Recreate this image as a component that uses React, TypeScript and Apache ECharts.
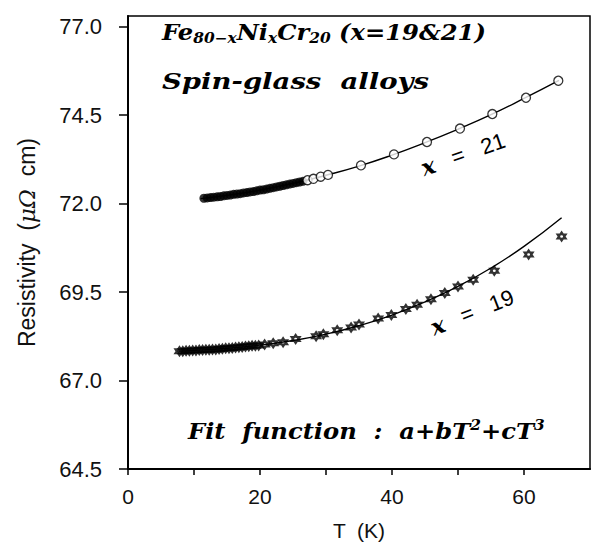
import React, { useEffect, useRef } from "react";
import * as echarts from "echarts";

// ---- data ----
// x = 21 : dense low-T run (markers overlap into a solid band)
const t21Dense = [11.5, 12.0, 12.5, 13.0, 13.5, 14.0, 14.5, 15.0, 15.5, 16.0, 16.5, 17.0, 17.5, 18.0, 18.5, 19.0, 19.5, 20.0, 20.5, 21.0, 21.5, 22.0, 22.5, 23.0, 23.5, 24.0, 24.5, 25.0, 25.5, 26.0, 26.5];
const r21Dense = [72.15, 72.16, 72.17, 72.18, 72.19, 72.20, 72.22, 72.23, 72.24, 72.26, 72.27, 72.28, 72.30, 72.31, 72.33, 72.34, 72.36, 72.38, 72.39, 72.41, 72.43, 72.45, 72.47, 72.49, 72.51, 72.53, 72.55, 72.57, 72.59, 72.61, 72.63];
// x = 21 : separate points
const t21 = [27.2, 28.1, 29.2, 30.3, 35.3, 40.3, 45.3, 50.3, 55.2, 60.3, 65.2];
const r21 = [72.66, 72.70, 72.76, 72.81, 73.08, 73.39, 73.74, 74.12, 74.53, 74.99, 75.47];
// x = 21 : fit curve
const t21Fit = [11.0, 15.0, 20.0, 25.0, 30.0, 35.0, 40.0, 45.0, 50.0, 55.0, 60.0, 65.3];
const r21Fit = [72.14, 72.23, 72.38, 72.57, 72.80, 73.06, 73.37, 73.72, 74.10, 74.51, 74.97, 75.48];

// x = 19 : dense low-T run
const t19Dense = [7.8, 8.3, 8.8, 9.3, 9.8, 10.3, 10.8, 11.3, 11.8, 12.3, 12.8, 13.3, 13.8, 14.3, 14.8, 15.3, 15.8, 16.3, 16.8, 17.3, 17.8, 18.3, 18.8, 19.3, 19.8];
const r19Dense = [67.83, 67.83, 67.84, 67.84, 67.85, 67.85, 67.86, 67.86, 67.87, 67.87, 67.88, 67.88, 67.89, 67.90, 67.91, 67.91, 67.92, 67.93, 67.94, 67.95, 67.96, 67.97, 67.98, 67.98, 67.99];
// x = 19 : separate points
const t19 = [20.7, 22.0, 23.5, 25.4, 28.5, 29.6, 31.7, 33.8, 35.0, 37.9, 39.9, 42.1, 43.8, 45.9, 48.0, 50.0, 52.3, 55.5, 60.7, 65.7];
const r19 = [68.02, 68.05, 68.08, 68.17, 68.25, 68.31, 68.42, 68.50, 68.58, 68.75, 68.85, 69.02, 69.14, 69.30, 69.47, 69.66, 69.85, 70.10, 70.56, 71.07];
// x = 19 : fit curve
const t19Fit = [7.5, 10.0, 15.0, 20.0, 25.0, 30.0, 35.0, 40.0, 45.0, 50.0, 55.0, 60.0, 65.7];
const r19Fit = [67.83, 67.85, 67.91, 68.00, 68.13, 68.31, 68.55, 68.85, 69.22, 69.66, 70.18, 70.79, 71.60];

const yTicks = [64.5, 67.0, 69.5, 72.0, 74.5, 77.0];
const xLabels = [0, 20, 40, 60];
const xTicks = [0, 10, 20, 30, 40, 50, 60];

const zip = (a: number[], b: number[]) => a.map((v, i) => [v, b[i]]);

const STAR =
  "path://M10 0 L12.89 5 L18.66 5 L15.77 10 L18.66 15 L12.89 15 L10 20 L7.11 15 L1.34 15 L4.23 10 L1.34 5 L7.11 5 Z M12.1 10 A2.1 2.1 0 0 0 7.9 10 A2.1 2.1 0 0 0 12.1 10 Z";

const SERIF = "DejaVu Serif";
const SANS = "Liberation Sans";

export default function App() {
  const ref = useRef<HTMLDivElement>(null);
  useEffect(() => {
    if (!ref.current) return;
    const chart = echarts.init(ref.current, null, { renderer: "svg" });
    const bi = { fontFamily: SERIF, fontWeight: "bold" as const, fontStyle: "italic" as const, fill: "#000" };
    const mathX = { fontFamily: SERIF, fontStyle: "italic" as const, fontWeight: "bold" as const, fontSize: 23, fill: "#000" };
    chart.setOption({
      animation: false,
      backgroundColor: "#fff",
      grid: { left: 128, right: 6, top: 16, bottom: 72, show: true, borderColor: "#000", borderWidth: 1.5, backgroundColor: "transparent" },
      xAxis: {
        type: "value",
        min: 0,
        max: 70,
        interval: 10,
        name: "T  (K)",
        nameLocation: "middle",
        nameGap: 51,
        nameTextStyle: { fontFamily: SANS, fontSize: 21, color: "#111" },
        axisLine: { show: true, onZero: false, lineStyle: { color: "#000", width: 2 } },
        axisTick: { show: true, customValues: xTicks, length: 6, lineStyle: { color: "#000", width: 1.5 } },
        axisLabel: { customValues: xLabels, margin: 17, fontFamily: SANS, fontSize: 21, color: "#111" },
        splitLine: { show: false },
      },
      yAxis: {
        type: "value",
        min: 64.5,
        max: 77.3,
        name: "Resistivity  ({g|μΩ}  cm)",
        nameLocation: "middle",
        nameGap: 90,
        nameTextStyle: {
          fontFamily: SANS,
          fontSize: 23,
          color: "#111",
          rich: { g: { fontFamily: SERIF, fontStyle: "italic", fontSize: 23, color: "#111" } },
        },
        axisLine: { show: true, onZero: false, lineStyle: { color: "#000", width: 2 } },
        axisTick: { show: true, customValues: yTicks, length: 9, lineStyle: { color: "#000", width: 1.5 } },
        axisLabel: {
          customValues: yTicks,
          margin: 26,
          fontFamily: SANS,
          fontSize: 22,
          color: "#111",
          formatter: (v: number) => v.toFixed(1),
        },
        splitLine: { show: false },
      },
      series: [
        { type: "line", data: zip(t21Fit, r21Fit), smooth: true, showSymbol: false, lineStyle: { color: "#000", width: 1.4 }, z: 2 },
        { type: "line", data: zip(t19Fit, r19Fit), smooth: true, showSymbol: false, lineStyle: { color: "#000", width: 1.4 }, z: 2 },
        { type: "scatter", data: zip(t21Dense, r21Dense), symbol: "circle", symbolSize: 9, itemStyle: { color: "#000" }, z: 3 },
        { type: "scatter", data: zip(t21, r21), symbol: "circle", symbolSize: 9, itemStyle: { color: "#fff", borderColor: "#000", borderWidth: 1.3 }, z: 4 },
        { type: "scatter", data: zip(t19Dense, r19Dense), symbol: STAR, symbolSize: 12, itemStyle: { color: "#000" }, z: 3 },
        { type: "scatter", data: zip(t19, r19), symbol: STAR, symbolSize: 12, itemStyle: { color: "#000" }, z: 4 },
      ],
      graphic: [
        {
          type: "text",
          left: 162,
          top: 19,
          scaleX: 1.1,
          style: {
            text: "Fe{s|80−x}Ni{s|x}Cr{s|20} (x=19&21)",
            ...bi,
            fontSize: 22,
            lineHeight: 26,
            rich: { s: { ...bi, fontSize: 14, lineHeight: 15, verticalAlign: "bottom" } },
          },
        },
        {
          type: "text",
          left: 162,
          top: 70,
          scaleX: 1.25,
          style: { text: "Spin-glass  alloys", ...bi, fontSize: 22 },
        },
        {
          type: "text",
          left: 188,
          top: 418,
          scaleX: 1.1,
          style: {
            text: "Fit  function  :  a+bT{p|2}+cT{p|3}",
            ...bi,
            fontSize: 22,
            lineHeight: 26,
            rich: { p: { ...bi, fontSize: 14, lineHeight: 13, verticalAlign: "top" } },
          },
        },
        {
          type: "text",
          x: 463,
          y: 154,
          rotation: 0.33,
          style: {
            text: "{i|x}   =   21",
            fontFamily: SANS,
            fontSize: 22,
            fill: "#000",
            align: "center",
            verticalAlign: "middle",
            rich: { i: mathX },
          },
        },
        {
          type: "text",
          x: 472,
          y: 312,
          rotation: 0.37,
          style: {
            text: "{i|x}   =   19",
            fontFamily: SANS,
            fontSize: 22,
            fill: "#000",
            align: "center",
            verticalAlign: "middle",
            rich: { i: mathX },
          },
        },
      ],
    });
    return () => chart.dispose();
  }, []);
  return <div ref={ref} style={{ position: "fixed", left: 0, top: 0, width: 596, height: 546 }} />;
}
